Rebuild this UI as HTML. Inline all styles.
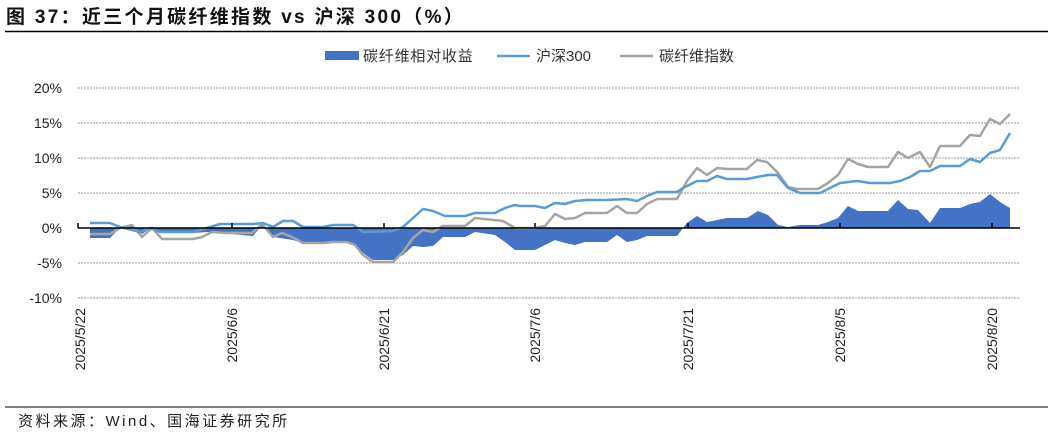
<!DOCTYPE html>
<html><head><meta charset="utf-8"><style>
body{margin:0;background:#fff;}
svg{display:block;}
text{font-family:"Liberation Sans","Noto Sans CJK SC",sans-serif;}
</style></head><body>
<svg width="1053" height="434" viewBox="0 0 1053 434" xmlns="http://www.w3.org/2000/svg">
<text x="6" y="23" font-size="19" font-weight="bold" fill="#111" letter-spacing="2.3">图 37：近三个月碳纤维指数 vs 沪深 300（%）</text>
<line x1="5" y1="31.5" x2="1048" y2="31.5" stroke="#000" stroke-width="1.5"/>
<line x1="5" y1="407" x2="1048" y2="407" stroke="#555" stroke-width="1.5"/>
<text x="18" y="426" font-size="15" fill="#222" letter-spacing="2.5">资料来源：Wind、国海证券研究所</text>
<!-- legend -->
<rect x="325" y="51" width="34" height="9" fill="#4472C4"/>
<text x="363" y="61" font-size="15" fill="#333" letter-spacing="0.8">碳纤维相对收益</text>
<line x1="497" y1="56" x2="530" y2="56" stroke="#5B9BD5" stroke-width="2.5"/>
<text x="536" y="61" font-size="15" fill="#333">沪深300</text>
<line x1="620" y1="56" x2="653" y2="56" stroke="#A5A5A5" stroke-width="2.5"/>
<text x="659" y="61" font-size="15" fill="#333">碳纤维指数</text>
<!-- grid -->
<g stroke="#999" stroke-width="1" stroke-dasharray="2,1">
<line x1="78" y1="88" x2="1020" y2="88"/><line x1="78" y1="123" x2="1020" y2="123"/>
<line x1="78" y1="158" x2="1020" y2="158"/><line x1="78" y1="193" x2="1020" y2="193"/>
<line x1="78" y1="263" x2="1020" y2="263"/><line x1="78" y1="298" x2="1020" y2="298"/>
</g>
<g font-size="14" fill="#222" text-anchor="end">
<text x="62" y="93">20%</text><text x="62" y="128">15%</text><text x="62" y="163">10%</text>
<text x="62" y="198">5%</text><text x="62" y="233">0%</text><text x="62" y="268">-5%</text><text x="62" y="303">-10%</text>
</g>
<polygon fill="#4472C4" points="90,228 90,238 110,238 120,228 132,225 142,234 152,227 162,233 193,233 207,232 220,233 253,236 263,224 273,237 293,240 303,243 353,243 363,253 373,260 393,260 403,255 413,246 423,247 433,246 443,237 465,237 475,232 495,235 505,242 515,250 535,250 545,245 555,240 565,243 575,245 585,242 607,242 617,235 627,242 637,240 647,236 677,236 683,228 687,223 697,216 707,222 727,218 747,218 758,211 768,215 778,225 788,227 800,225 818,225 828,222 838,218 848,206 858,211 888,211 898,200 908,209 918,210 930,223 940,208 960,208 970,204 980,202 990,194 1000,202 1010,208 1010,228"/>
<polyline fill="none" stroke="#A5A5A5" stroke-width="2.5" stroke-linejoin="round" points="90,234 110,234 120,228 132,225 142,237 152,228 162,239 193,239 202,237 212,232 227,233 252,233 262,224 273,237 282,233 292,237 303,243 323,243 333,242 347,242 355,245 363,255 373,262 393,262 403,252 413,238 423,230 433,232 443,226 465,226 475,218 503,221 515,228 535,228 545,226 555,214 565,219 575,218 585,213 607,213 617,206 627,213 637,213 647,204 657,199 677,199 687,181 697,168 707,175 717,168 727,169 747,169 757,160 767,162 778,173 788,187 797,189 818,189 828,183 838,175 848,159 858,164 868,167 888,167 898,152 908,158 920,152 930,167 940,146 960,146 970,135 980,136 990,119 1000,124 1010,114"/>
<polyline fill="none" stroke="#5B9BD5" stroke-width="2.5" stroke-linejoin="round" points="90,223 110,223 120,227 140,232 150,228 160,232 193,232 207,228 220,224 253,224 263,223 273,227 283,221 293,221 303,227 323,227 333,225 353,225 363,232 393,231 403,227 413,218 423,209 433,211 445,216 465,216 475,213 495,213 505,208 515,205 520,206 535,206 545,208 555,203 565,204 575,201 587,200 607,200 627,199 637,201 647,196 657,192 677,192 683,188 697,181 707,181 717,176 727,179 747,179 757,177 768,175 777,175 788,188 800,193 820,193 830,188 840,183 857,181 870,183 890,183 900,181 910,177 920,171 930,171 940,166 960,166 970,159 980,162 990,153 1000,150 1010,133"/>
<!-- x axis -->
<line x1="78" y1="228" x2="1020" y2="228" stroke="#000" stroke-width="1.5"/>
<g stroke="#000" stroke-width="1.5">
<line x1="78" y1="223" x2="78" y2="228"/><line x1="232" y1="223" x2="232" y2="228"/>
<line x1="384" y1="223" x2="384" y2="228"/><line x1="535" y1="223" x2="535" y2="228"/>
<line x1="688" y1="223" x2="688" y2="228"/><line x1="840" y1="223" x2="840" y2="228"/>
<line x1="992" y1="223" x2="992" y2="228"/>
</g>
<g font-size="14" fill="#222" text-anchor="end">
<text transform="translate(85,308) rotate(-90)">2025/5/22</text>
<text transform="translate(237,308) rotate(-90)">2025/6/6</text>
<text transform="translate(389,308) rotate(-90)">2025/6/21</text>
<text transform="translate(540,308) rotate(-90)">2025/7/6</text>
<text transform="translate(693,308) rotate(-90)">2025/7/21</text>
<text transform="translate(845,308) rotate(-90)">2025/8/5</text>
<text transform="translate(997,308) rotate(-90)">2025/8/20</text>
</g>
</svg>
</body></html>
